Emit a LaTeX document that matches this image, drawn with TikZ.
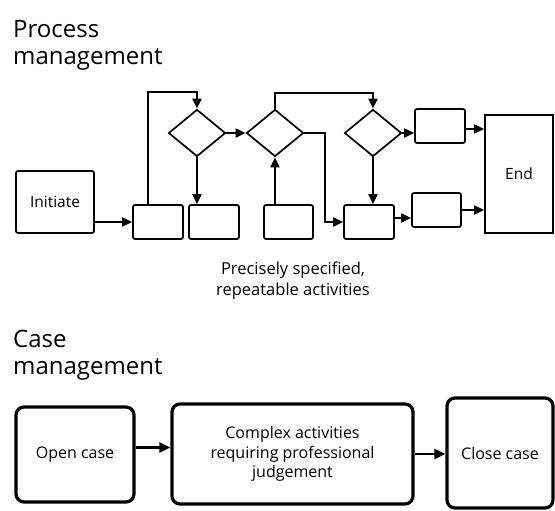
\documentclass[tikz,border=0pt]{standalone}
\usepackage{fontspec}
\setmainfont{Open Sans}
\usetikzlibrary{arrows.meta,shapes.geometric}
\begin{document}
\begin{tikzpicture}[x=1pt,y=-1pt,
 pbox/.style={draw,line width=1.7pt,rounded corners=2pt,inner sep=0pt,font=\fontsize{15.5}{18}\selectfont},
 cbox/.style={draw,line width=3.2pt,rounded corners=8pt,align=center,inner sep=0pt,font=\fontsize{16}{19.5}\selectfont},
 dia/.style={draw,diamond,line width=1.7pt,inner sep=0pt,minimum width=57pt,minimum height=47pt,aspect=1.2},
 arr/.style={line width=1.8pt,-{Triangle[length=10pt,width=9pt]}},
 carr/.style={line width=2.6pt,-{Triangle[length=11pt,width=10pt]}},
 ttl/.style={anchor=north west,align=left,inner sep=0pt,font=\fontsize{24}{27}\selectfont},
 ]
\useasboundingbox (0,0) rectangle (555,511);
% titles
\node[ttl] (t1) at (13,20) {Process\\management};
\node[ttl] (t2) at (13,330) {Case\\management};
\node[align=center,inner sep=0pt,font=\fontsize{16.5}{21}\selectfont] (note) at (293,281) {Precisely specified,\\repeatable activities};
% process nodes
\node[pbox,minimum width=78pt,minimum height=62pt] (init) at (55,202) {Initiate};
\node[pbox,minimum width=50pt,minimum height=34pt] (bA) at (158,222) {};
\node[pbox,minimum width=50pt,minimum height=34pt] (bB) at (214,222) {};
\node[pbox,minimum width=49pt,minimum height=34pt] (bC) at (288.5,222) {};
\node[pbox,minimum width=50pt,minimum height=34pt] (bE) at (369,222) {};
\node[pbox,minimum width=49pt,minimum height=34pt] (bF) at (436.5,210) {};
\node[pbox,minimum width=50pt,minimum height=34pt] (bD) at (440,126) {};
\node[draw,line width=1.7pt,inner sep=0pt,minimum width=68pt,minimum height=118pt,font=\fontsize{15.5}{18}\selectfont] (endb) at (519,174) {End};
\node[dia] (d1) at (197,133) {};
\node[dia] (d2) at (275,133) {};
\node[dia] (d3) at (373,133) {};
\coordinate (l1) at (148,92);
\coordinate (l2) at (275,93);
\coordinate (c3) at (325,222);
% process connectors
\draw[arr] (init.east |- bA.west) -- (bA.west);
\draw[arr] (bA.north -| l1) -- (l1) -| (d1.north);
\draw[arr] (d1.east) -- (d2.west);
\draw[arr] (d1.south) -- (d1.south |- bB.north);
\draw[arr] (bC.north -| d2.south) -- (d2.south);
\draw[arr] (d2.north) -- (l2) -| (d3.north);
\draw[arr] (d2.east) -| (c3) -- (bE.west);
\draw[arr] (d3.east) -- (d3.east -| bD.west);
\draw[arr] (d3.south) -- (d3.south |- bE.north);
\draw[arr] ([yshift=4pt]bE.east) -- ([yshift=4pt]bE.east -| bF.west);
\draw[arr] ([yshift=-3pt]bD.east) -- ([yshift=-3pt]bD.east -| endb.west);
\draw[arr] (bF.east) -- (bF.east -| endb.west);
% case management
\node[cbox,minimum width=118pt,minimum height=95pt] (open) at (75,454.5) {Open case};
\node[cbox,minimum width=241pt,minimum height=100pt] (cplx) at (292.5,454) {Complex activities\\requiring professional\\judgement};
\node[cbox,minimum width=106pt,minimum height=110pt] (close) at (500,453) {Close case};
\draw[carr] ([yshift=7pt]open.east) -- ([yshift=7pt]open.east -| cplx.west);
\draw[carr] (cplx.east) -- (cplx.east -| close.west);
\end{tikzpicture}
\end{document}
